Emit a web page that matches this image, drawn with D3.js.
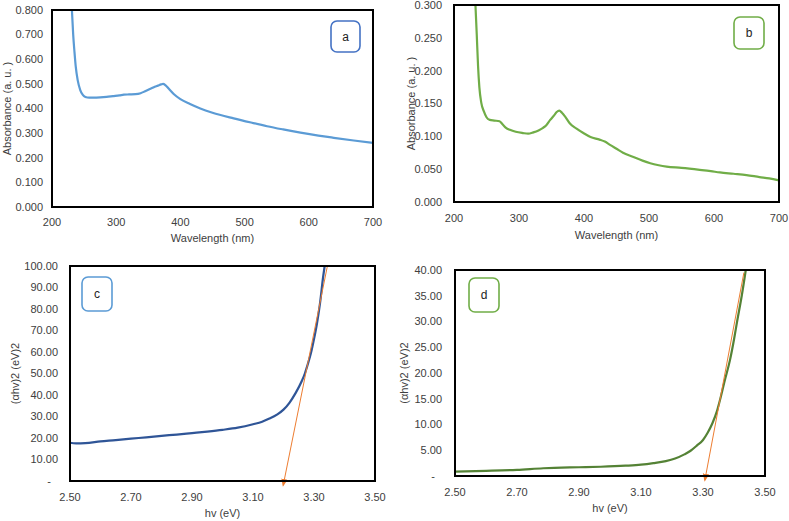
<!DOCTYPE html>
<html>
<head>
<meta charset="utf-8">
<script src="https://cdn.jsdelivr.net/npm/d3@7"></script>
<style>
  html, body { margin: 0; padding: 0; background: #fff; }
  svg { display: block; font-family: "Liberation Sans", Arial, sans-serif; }
  .tick-label { font-size: 11px; fill: #404040; }
  .axis-title { font-size: 11px; fill: #404040; }
  .tag-text { font-size: 12px; fill: #222; }
</style>
</head>
<body>
<svg id="chart" width="789" height="521"></svg>
<script>
// Four-panel figure: UV-vis absorbance (a, b) and Tauc plots (c, d).

// Panel a – absorbance vs wavelength
const A_WAVELENGTH = [231, 233, 235, 237, 240, 244, 248, 252, 258, 265, 275, 285, 295, 305, 312, 320, 330, 338, 345, 350,
  355, 360, 365, 370, 373, 377, 382, 390, 400, 415, 431, 450, 483, 510, 535, 560, 587, 615, 639, 670, 700];
const A_ABSORBANCE = [0.800, 0.700, 0.630, 0.570, 0.515, 0.475, 0.455, 0.447, 0.444, 0.444, 0.445, 0.447, 0.450, 0.453,
  0.456, 0.457, 0.458, 0.462, 0.470, 0.476, 0.482, 0.488, 0.493, 0.498, 0.500, 0.494, 0.480, 0.458, 0.438, 0.418, 0.400,
  0.383, 0.360, 0.343, 0.328, 0.315, 0.302, 0.290, 0.281, 0.270, 0.260];

// Panel b – absorbance vs wavelength
const B_WAVELENGTH = [233, 235, 237, 239, 242, 246, 250, 255, 262, 270, 275, 280, 286, 295, 306, 314, 322, 330, 337, 342,
  348, 354, 358, 362, 366, 371, 378, 388, 399, 410, 424, 432, 440, 450, 460, 475, 490, 502, 515, 527, 550, 578, 595, 609,
  630, 650, 670, 685, 700];
const B_ABSORBANCE = [0.300, 0.255, 0.207, 0.175, 0.151, 0.138, 0.129, 0.125, 0.124, 0.123, 0.118, 0.113, 0.110, 0.107,
  0.105, 0.104, 0.106, 0.109, 0.113, 0.117, 0.125, 0.132, 0.137, 0.139, 0.136, 0.130, 0.120, 0.112, 0.105, 0.099, 0.095,
  0.092, 0.087, 0.081, 0.075, 0.069, 0.063, 0.059, 0.056, 0.054, 0.052, 0.049, 0.047, 0.045, 0.043, 0.041, 0.038, 0.036,
  0.033];

// Panel c – Tauc plot
const C_ENERGY = [2.50, 2.52, 2.55, 2.60, 2.65, 2.70, 2.75, 2.80, 2.85, 2.90, 2.95, 3.00, 3.05, 3.10, 3.13, 3.15, 3.18,
  3.20, 3.22, 3.24, 3.26, 3.27, 3.28, 3.29, 3.30, 3.31, 3.32, 3.33, 3.335];
const C_TAUC = [17.8, 17.5, 17.6, 18.4, 19.0, 19.7, 20.3, 21.0, 21.6, 22.3, 23.0, 23.8, 24.8, 26.4, 27.6, 28.8, 31.0,
  33.2, 36.5, 41.0, 46.5, 50.0, 54.5, 59.5, 66.0, 73.5, 83.0, 95.0, 100.0];
const C_TANGENT = [[3.344, 100], [3.199, -2]];

// Panel d – Tauc plot
const D_ENERGY = [2.50, 2.60, 2.70, 2.785, 2.90, 2.97, 3.05, 3.10, 3.14, 3.18, 3.21, 3.24, 3.26, 3.28, 3.30, 3.315,
  3.33, 3.345, 3.355, 3.37, 3.387, 3.40, 3.41, 3.425, 3.438];
const D_TAUC = [0.85, 1.0, 1.2, 1.5, 1.7, 1.8, 2.0, 2.2, 2.5, 2.9, 3.4, 4.2, 4.9, 5.9, 7.0, 8.4, 10.2, 12.6, 14.8, 18.5,
  22.5, 26.5, 30.0, 35.0, 40.0];
const D_TANGENT = [[3.432, 39.5], [3.306, -0.8]];

// Tick values
const WAVELENGTH_TICKS = [200, 300, 400, 500, 600, 700];
const A_Y_TICKS = [0, 0.1, 0.2, 0.3, 0.4, 0.5, 0.6, 0.7, 0.8];
const B_Y_TICKS = [0, 0.05, 0.1, 0.15, 0.2, 0.25, 0.3];
const ENERGY_TICKS = [2.5, 2.7, 2.9, 3.1, 3.3, 3.5];
const C_Y_TICKS = [0, 10, 20, 30, 40, 50, 60, 70, 80, 90, 100];
const D_Y_TICKS = [0, 5, 10, 15, 20, 25, 30, 35, 40];

const ORANGE = "#ED7D31";

const svg = d3.select("#chart");

svg.append("defs").append("marker")
  .attr("id", "arrow")
  .attr("viewBox", "0 0 10 10")
  .attr("refX", 8).attr("refY", 5)
  .attr("markerUnits", "userSpaceOnUse")
  .attr("markerWidth", 8).attr("markerHeight", 8)
  .attr("orient", "auto")
  .append("path")
    .attr("d", "M0,1 L10,5 L0,9 Z")
    .attr("fill", ORANGE);

const fmt3 = d3.format(".3f");
const fmt2 = d3.format(".2f");
const fmtAcct = v => v === 0 ? "-" : fmt2(v);

const panels = [
  {
    box: { left: 52, top: 10, right: 373, bottom: 207 },
    xDomain: [200, 700], yDomain: [0, 0.8],
    xTicks: WAVELENGTH_TICKS, yTicks: A_Y_TICKS, xFmt: d3.format("d"), yFmt: fmt3,
    xs: A_WAVELENGTH, ys: A_ABSORBANCE, color: "#5B9BD5",
    xTitle: "Wavelength (nm)", yTitle: "Absorbance (a. u. )",
    labelGap: 9, xLabelY: 226, xTitleY: 242, yTitleX: 7,
    tag: { text: "a", x: 331, y: 21, w: 29, h: 31, stroke: "#4472C4" }
  },
  {
    box: { left: 454, top: 5, right: 779, bottom: 202 },
    xDomain: [200, 700], yDomain: [0, 0.3],
    xTicks: WAVELENGTH_TICKS, yTicks: B_Y_TICKS, xFmt: d3.format("d"), yFmt: fmt3,
    xs: B_WAVELENGTH, ys: B_ABSORBANCE, color: "#70AD47",
    xTitle: "Wavelength (nm)", yTitle: "Absorbance (a. u. )",
    labelGap: 12, xLabelY: 222, xTitleY: 239, yTitleX: 411,
    tag: { text: "b", x: 734, y: 17, w: 30, h: 32, stroke: "#70AD47" }
  },
  {
    box: { left: 70, top: 266, right: 375, bottom: 481 },
    xDomain: [2.5, 3.5], yDomain: [0, 100],
    xTicks: ENERGY_TICKS, yTicks: C_Y_TICKS, xFmt: fmt2, yFmt: fmtAcct,
    xs: C_ENERGY, ys: C_TAUC, color: "#2F5597", tangent: C_TANGENT,
    xTitle: "hv (eV)", yTitle: "(αhv)2 (eV)2",
    labelGap: 12, xLabelY: 501, xTitleY: 517, yTitleX: 15,
    tag: { text: "c", x: 82, y: 277, w: 30, h: 34, stroke: "#5B9BD5" }
  },
  {
    box: { left: 455, top: 270, right: 765, bottom: 476 },
    xDomain: [2.5, 3.5], yDomain: [0, 40],
    xTicks: ENERGY_TICKS, yTicks: D_Y_TICKS, xFmt: fmt2, yFmt: fmtAcct,
    xs: D_ENERGY, ys: D_TAUC, color: "#548235", tangent: D_TANGENT,
    xTitle: "hv (eV)", yTitle: "(αhv)2 (eV)2",
    labelGap: 13, xLabelY: 496, xTitleY: 512, yTitleX: 404,
    tag: { text: "d", x: 469, y: 278, w: 30, h: 34, stroke: "#70AD47" }
  }
];

panels.forEach(drawPanel);

function drawPanel(p) {
  const b = p.box;
  const x = d3.scaleLinear().domain(p.xDomain).range([b.left, b.right]);
  const y = d3.scaleLinear().domain(p.yDomain).range([b.bottom, b.top]);
  const g = svg.append("g");

  // y tick labels (no tick marks, as in the original)
  g.selectAll("text.ylab")
    .data(p.yTicks)
    .join("text")
      .attr("class", "tick-label ylab")
      .attr("x", d => (d === 0 && p.yFmt === fmtAcct) ? b.left - p.labelGap - 7 : b.left - p.labelGap)
      .attr("y", d => y(d))
      .attr("dy", "0.35em")
      .attr("text-anchor", "end")
      .text(p.yFmt);

  g.selectAll("text.xlab")
    .data(p.xTicks)
    .join("text")
      .attr("class", "tick-label xlab")
      .attr("x", d => x(d))
      .attr("y", p.xLabelY)
      .attr("text-anchor", "middle")
      .text(p.xFmt);

  g.append("text")
    .attr("class", "axis-title")
    .attr("x", (b.left + b.right) / 2)
    .attr("y", p.xTitleY)
    .attr("text-anchor", "middle")
    .text(p.xTitle);

  g.append("text")
    .attr("class", "axis-title")
    .attr("transform", `translate(${p.yTitleX},${(b.top + b.bottom) / 2}) rotate(-90)`)
    .attr("dy", "0.35em")
    .attr("text-anchor", "middle")
    .text(p.yTitle);

  const line = d3.line().x(d => x(d[0])).y(d => y(d[1])).curve(d3.curveMonotoneX);
  g.append("path")
    .datum(p.xs.map((v, i) => [v, p.ys[i]]))
    .attr("fill", "none")
    .attr("stroke", p.color)
    .attr("stroke-width", 2.2)
    .attr("stroke-linejoin", "round")
    .attr("d", line);

  if (p.tangent) {
    g.append("path")
      .datum(p.tangent)
      .attr("fill", "none")
      .attr("stroke", ORANGE)
      .attr("stroke-width", 1)
      .attr("marker-end", "url(#arrow)")
      .attr("d", d3.line().x(d => x(d[0])).y(d => y(d[1])));
  }

  // plot frame
  g.append("rect")
    .attr("x", b.left).attr("y", b.top)
    .attr("width", b.right - b.left).attr("height", b.bottom - b.top)
    .attr("fill", "none")
    .attr("stroke", "#000")
    .attr("stroke-width", 2);

  // panel tag
  const t = p.tag;
  g.append("rect")
    .attr("x", t.x).attr("y", t.y)
    .attr("width", t.w).attr("height", t.h)
    .attr("rx", 6)
    .attr("fill", "#fff")
    .attr("stroke", t.stroke)
    .attr("stroke-width", 1.6);
  g.append("text")
    .attr("class", "tag-text")
    .attr("x", t.x + t.w / 2)
    .attr("y", t.y + t.h / 2)
    .attr("dy", "0.35em")
    .attr("text-anchor", "middle")
    .text(t.text);
}
</script>
</body>
</html>
